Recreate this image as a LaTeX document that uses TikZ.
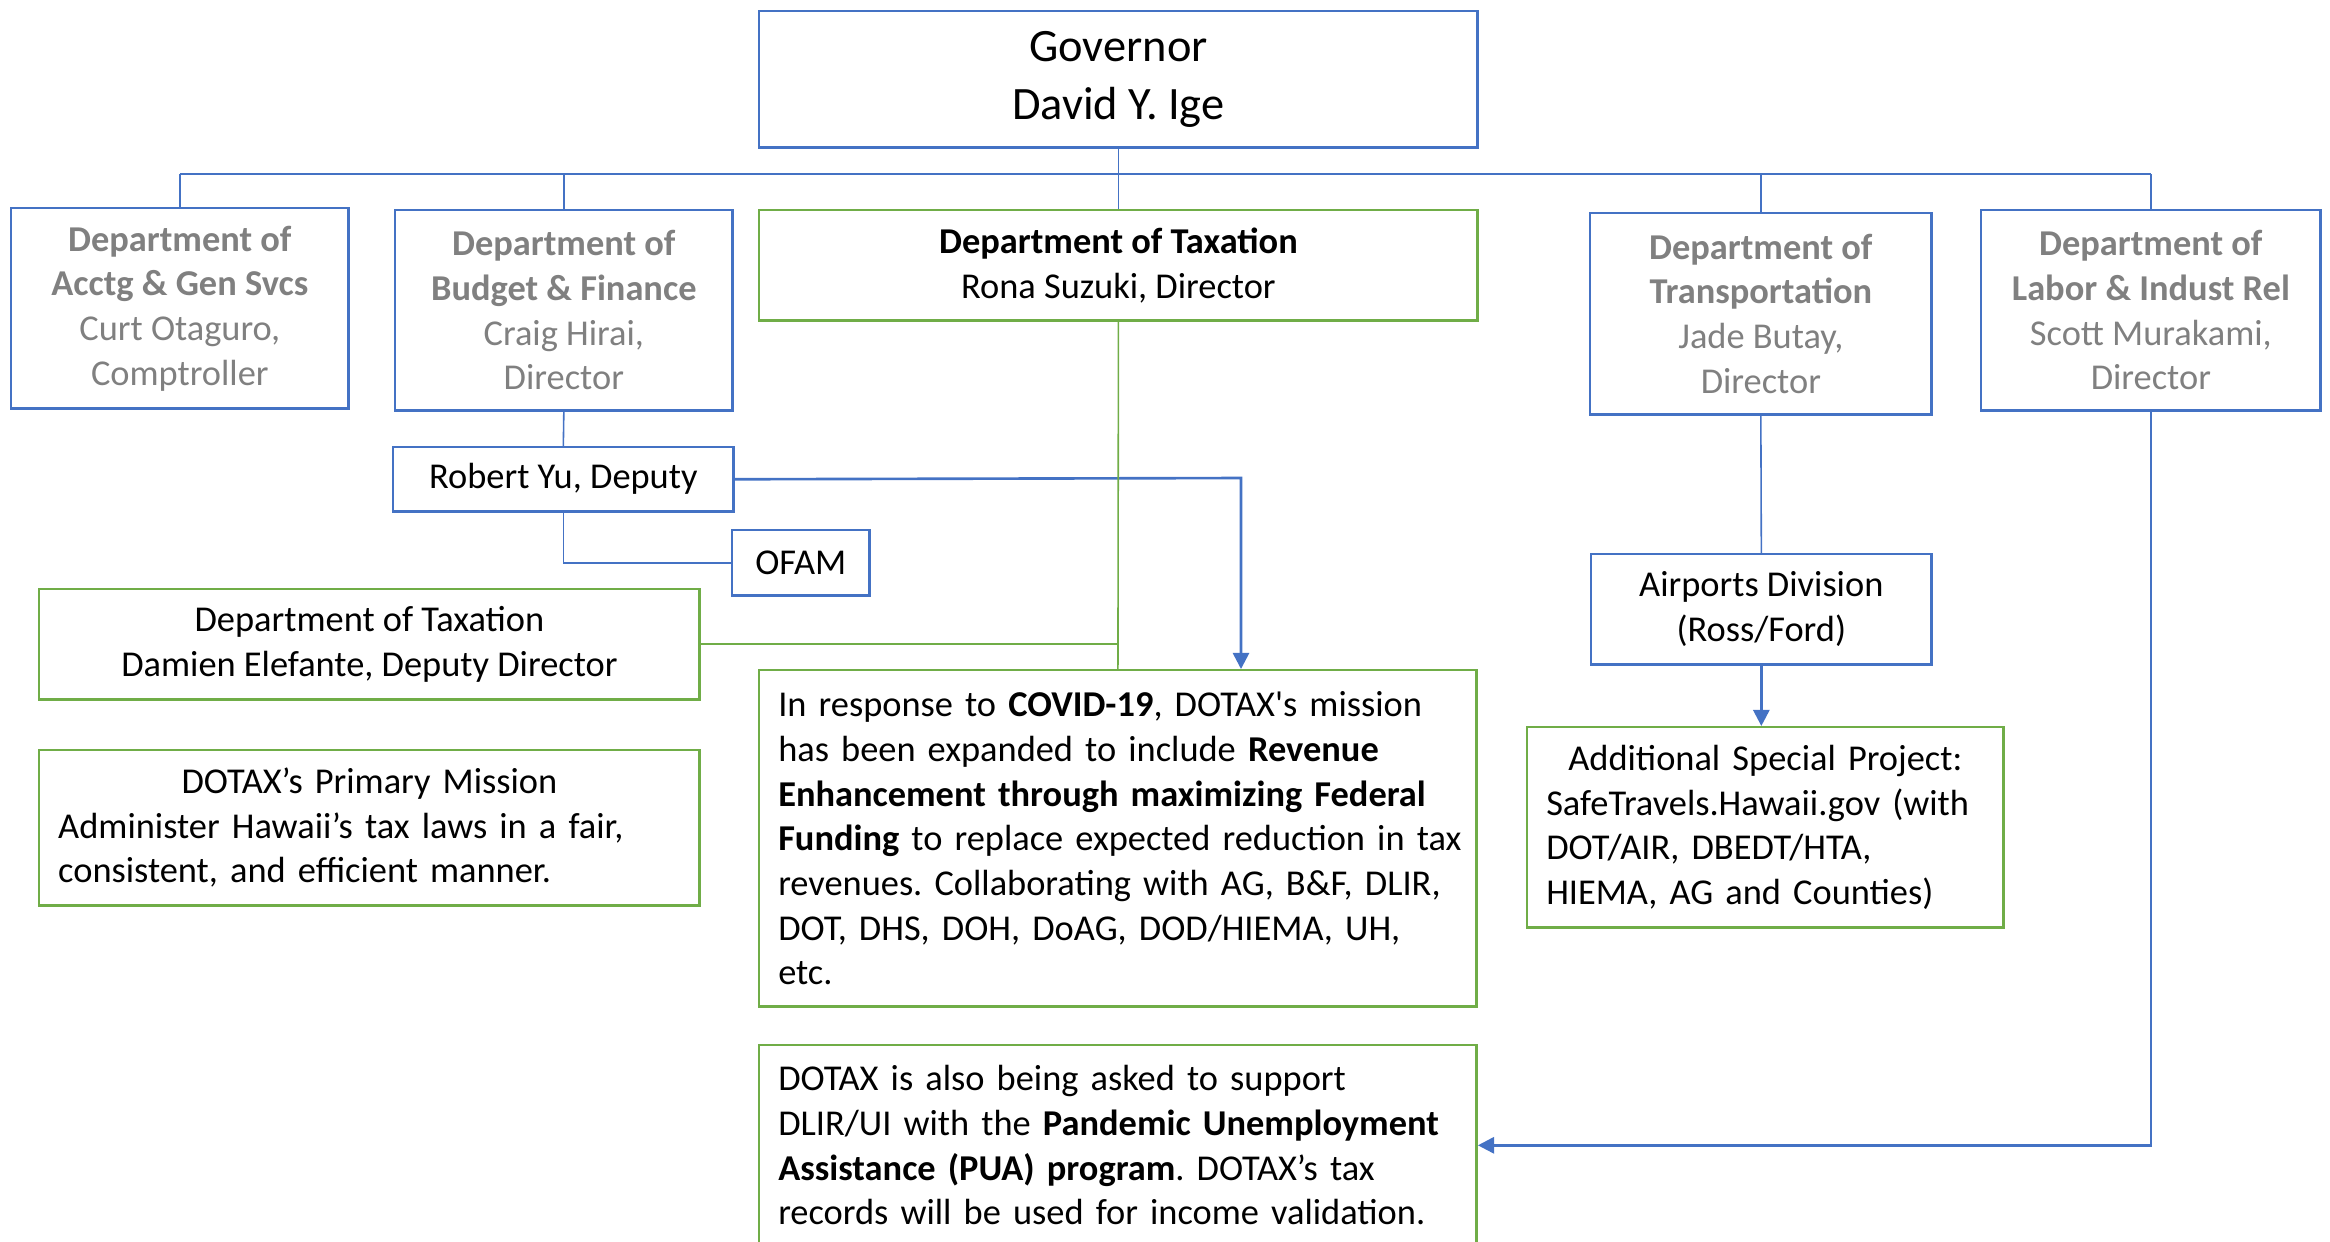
\documentclass[tikz,border=0pt]{standalone}
\usepackage{fontspec}
\setmainfont{Carlito}
\usetikzlibrary{arrows.meta}
\definecolor{boxblue}{RGB}{68,114,196}
\definecolor{boxgreen}{RGB}{112,173,71}
\definecolor{deptgray}{RGB}{128,128,128}
\frenchspacing
\tikzset{
  orgbox/.style={draw, line width=0.7pt, anchor=north west, inner sep=0pt, align=center,
    font=\fontsize{10.35}{12.7}\selectfont},
  bluebox/.style={orgbox, draw=boxblue},
  greenbox/.style={orgbox, draw=boxgreen},
  thinlink/.style={draw=boxblue, line width=0.45pt},
  greenlink/.style={draw=boxgreen, line width=0.45pt},
  arrowlink/.style={draw=boxblue, line width=0.75pt, -{Triangle[width=4.6pt,length=4.6pt]}}
}
\begin{document}
\begin{tikzpicture}[x=0.01cm, y=-0.01cm]
\useasboundingbox (0,0) rectangle (2330,1241);

% Governor and the departments
\node[bluebox, minimum width=7.18cm, minimum height=1.36cm, font=\fontsize{13.2}{16.3}\selectfont] (gov) at (758,10) {Governor\\David Y. Ige};
\node[bluebox, text=deptgray, minimum width=3.37cm, minimum height=2cm] (acctg) at (10,207) {\textbf{Department of}\\\textbf{Acctg \& Gen Svcs}\\Curt Otaguro,\\Comptroller};
\node[bluebox, text=deptgray, minimum width=3.37cm, minimum height=2cm] (bf) at (394,209) {\textbf{Department of}\\\textbf{Budget \& Finance}\\Craig Hirai,\\Director};
\node[greenbox, minimum width=7.18cm, minimum height=1.1cm] (tax) at (758,209) {\textbf{Department of Taxation}\\Rona Suzuki, Director};
\node[bluebox, text=deptgray, minimum width=3.41cm, minimum height=2.01cm] (trans) at (1589,212) {\textbf{Department of}\\\textbf{Transportation}\\Jade Butay,\\Director};
\node[bluebox, text=deptgray, minimum width=3.39cm, minimum height=2cm] (labor) at (1980,209) {\textbf{Department of}\\\textbf{Labor \& Indust Rel}\\Scott Murakami,\\Director};

% B&F deputy and OFAM
\node[bluebox, minimum width=3.4cm, minimum height=0.64cm] (yu) at (392,446) {Robert Yu, Deputy};
\node[bluebox, minimum width=1.37cm, minimum height=0.65cm] (ofam) at (731,529) {OFAM};

% Taxation boxes
\node[greenbox, minimum width=6.6cm, minimum height=1.1cm] (dep) at (38,588) {Department of Taxation\\Damien Elefante, Deputy Director};
\node[greenbox, align=left, text width=6.22cm, minimum width=6.6cm, minimum height=1.55cm] (mission) at (38,749) {\makebox[6.22cm]{DOTAX’s Primary Mission}\\Administer Hawaii’s tax laws in a fair,\\consistent, and efficient manner.};
\node[greenbox, align=left, text width=6.79cm, minimum width=7.17cm, minimum height=3.36cm] (covid) at (758,669) {In response to \textbf{COVID-19}, DOTAX\textquotesingle s mission\\has been expanded to include \textbf{Revenue}\\\mbox{\textbf{Enhancement through maximizing Federal}}\\\mbox{\textbf{Funding} to replace expected reduction in tax}\\revenues. Collaborating with AG, B\&F, DLIR,\\DOT, DHS, DOH, DoAG, DOD/HIEMA, UH,\\etc.};
\node[greenbox, align=left, text width=6.79cm, minimum width=7.17cm, minimum height=2cm] (pua) at (758,1044) {DOTAX is also being asked to support\\\mbox{DLIR/UI with the \textbf{Pandemic Unemployment}}\\\textbf{Assistance (PUA) program}. DOTAX’s tax\\records will be used for income validation.};

% Transportation boxes
\node[bluebox, minimum width=3.4cm, minimum height=1.1cm] (airports) at (1590,553) {Airports Division\\(Ross/Ford)};
\node[greenbox, align=left, text width=4.38cm, minimum width=4.76cm, minimum height=2cm] (special) at (1526,726) {\makebox[4.38cm]{Additional Special Project:}\\SafeTravels.Hawaii.gov (with\\DOT/AIR, DBEDT/HTA,\\HIEMA, AG and Counties)};

% Bus under the Governor
\coordinate (bus) at (1117,174);
\draw[thinlink] (gov.south) -- (tax.north);
\draw[thinlink] (acctg.north |- bus) -- (labor.north |- bus);
\foreach \d in {acctg,bf,trans,labor}
  \draw[thinlink] (\d.north |- bus) -- (\d.north);

% Links below the departments
\draw[thinlink] (bf.south) -- (yu.north);
\draw[thinlink] (yu.south) |- (ofam.west);
\coordinate (yuturn) at (1241,478);
\draw[arrowlink] (yu.east) -- (yuturn) -- (yuturn |- covid.north);
\draw[greenlink] (tax.south) -- (covid.north);
\draw[greenlink] (dep.east) -- (dep.east -| tax.south);
\draw[thinlink] (trans.south) -- (airports.north);
\draw[arrowlink] (airports.south) -- (airports.south |- special.north);
\draw[arrowlink] (labor.south) |- (pua.east);
\end{tikzpicture}
\end{document}
